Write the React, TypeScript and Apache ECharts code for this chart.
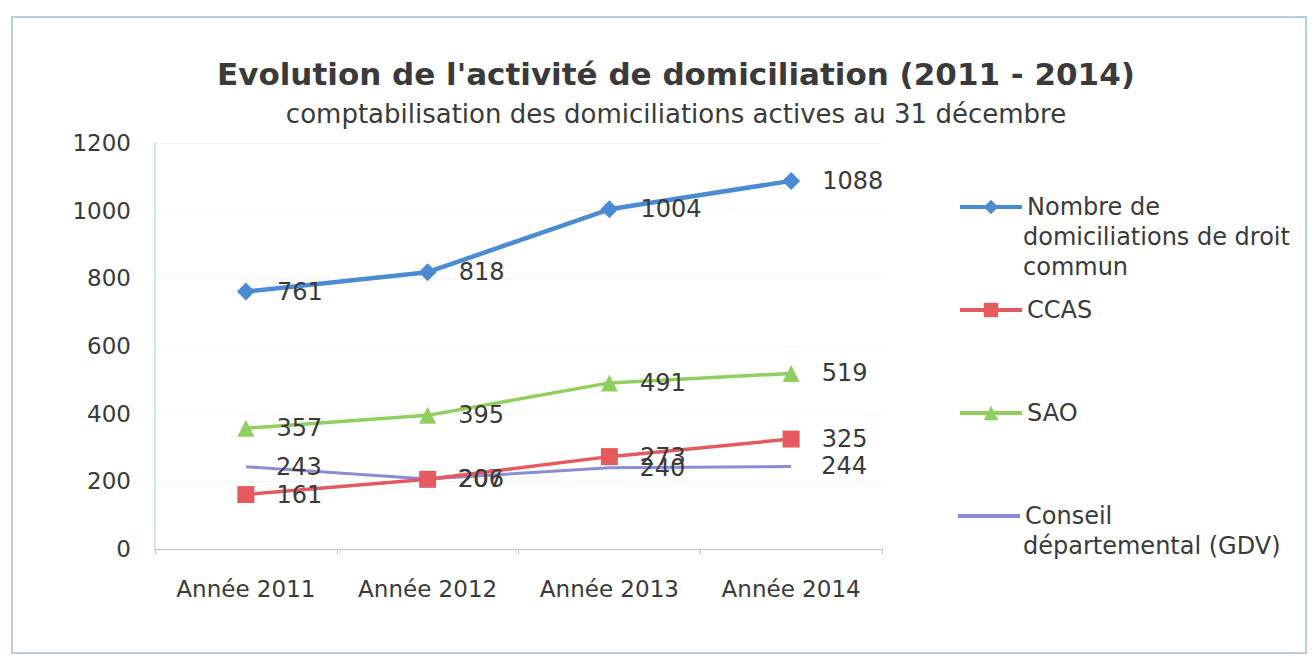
import React, { useEffect, useRef } from "react";
import * as echarts from "echarts";

const categories = ["Année 2011", "Année 2012", "Année 2013", "Année 2014"];
const droitCommun = [761, 818, 1004, 1088];
const ccas = [161, 206, 273, 325];
const sao = [357, 395, 491, 519];
const gdv = [243, 207, 240, 244];
const seriesNames = [
  "Nombre de domiciliations de droit commun",
  "CCAS",
  "SAO",
  "Conseil départemental (GDV)",
];
const legendFirstLines = ["Nombre de", "CCAS", "SAO", "Conseil"];
const legendExtraLines = [["domiciliations de droit", "commun"], [], [], ["départemental (GDV)"]];
const colors = ["#4a8bd3", "#e45a5e", "#8fcf5f", "#8c8cd6"];
const yTicks = { min: 0, max: 1200, interval: 200 };

const FONT = "DejaVu Sans";
const TXT = "#3a3a3a";

export default function App() {
  const ref = useRef<HTMLDivElement>(null);
  useEffect(() => {
    const chart = echarts.init(ref.current!, null, { renderer: "svg" });
    const legendCenters = [207, 310, 413, 516];
    const lh = 30;
    const label = {
      show: true,
      position: "right" as const,
      distance: 22,
      fontFamily: FONT,
      fontSize: 24,
      color: TXT,
    };
    const graphics: any[] = [
      {
        type: "rect",
        shape: { x: 12, y: 17, width: 1294, height: 636 },
        style: { fill: "none", stroke: "#b9cedb", lineWidth: 2 },
        silent: true,
      },
    ];
    legendExtraLines.forEach((lines, i) => {
      lines.forEach((t, j) => {
        graphics.push({
          type: "text",
          x: 1023,
          y: legendCenters[i] + (j + 1) * lh,
          style: {
            text: t,
            font: `24px "${FONT}"`,
            fill: TXT,
            verticalAlign: "middle",
            align: "left",
          },
        });
      });
    });
    chart.setOption({
      animation: false,
      backgroundColor: "#ffffff",
      title: {
        text: "Evolution de l'activité de domiciliation (2011 - 2014)",
        subtext: "comptabilisation des domiciliations actives au 31 décembre",
        left: 671,
        textAlign: "center",
        top: 53,
        itemGap: 12,
        textStyle: { fontFamily: FONT, fontSize: 31, fontWeight: "bold", color: TXT },
        subtextStyle: { fontFamily: FONT, fontSize: 26, color: TXT },
      },
      legend: seriesNames.map((n, i) => ({
        data: [n],
        left: 958,
        top: legendCenters[i] - lh / 2,
        padding: 0,
        itemWidth: 62,
        itemHeight: i === 3 ? 4 : 18,
        icon: i === 3 ? "rect" : undefined,
        itemGap: 5,
        lineStyle: { width: 4 },
        formatter: () => legendFirstLines[i],
        textStyle: { fontFamily: FONT, fontSize: 24, color: TXT, lineHeight: lh },
        selectedMode: false,
      })),
      grid: { left: 155, right: 432, top: 143, bottom: 110, containLabel: false },
      xAxis: {
        type: "category",
        data: categories,
        boundaryGap: true,
        axisLine: { lineStyle: { color: "#c4c4c4", width: 1 } },
        axisTick: { show: true, interval: 0, length: 5, lineStyle: { color: "#c4c4c4" } },
        axisLabel: { fontFamily: FONT, fontSize: 23, color: TXT, margin: 28, interval: 0 },
      },
      yAxis: {
        type: "value",
        min: yTicks.min,
        max: yTicks.max,
        interval: yTicks.interval,
        axisLine: { show: true, lineStyle: { color: "#c9dbe6", width: 1.5 } },
        axisTick: { show: false },
        splitLine: { show: true, lineStyle: { color: "#f1f5f8" } },
        axisLabel: {
          fontFamily: FONT,
          fontSize: 23,
          color: TXT,
          margin: 24,
          formatter: (v: number) => String(v),
        },
      },
      series: [
        {
          name: seriesNames[0],
          type: "line",
          data: droitCommun,
          color: colors[0],
          symbol: "diamond",
          symbolSize: 18,
          lineStyle: { width: 4.5 },
          label,
          z: 4,
        },
        {
          name: seriesNames[1],
          type: "line",
          data: ccas,
          color: colors[1],
          symbol: "rect",
          symbolSize: 17,
          lineStyle: { width: 3.5 },
          label,
          z: 3,
        },
        {
          name: seriesNames[2],
          type: "line",
          data: sao,
          color: colors[2],
          symbol: "triangle",
          symbolSize: 17,
          lineStyle: { width: 3.5 },
          label,
          z: 3,
        },
        {
          name: seriesNames[3],
          type: "line",
          data: gdv,
          color: colors[3],
          showSymbol: true,
          symbol: "circle",
          symbolSize: 0.1,
          lineStyle: { width: 3 },
          label: { ...label, distance: 30 },
          z: 2,
        },
      ],
      graphic: graphics,
    });
    return () => chart.dispose();
  }, []);
  return (
    <div
      ref={ref}
      style={{ position: "absolute", left: 0, top: 0, width: 1314, height: 659 }}
    />
  );
}
